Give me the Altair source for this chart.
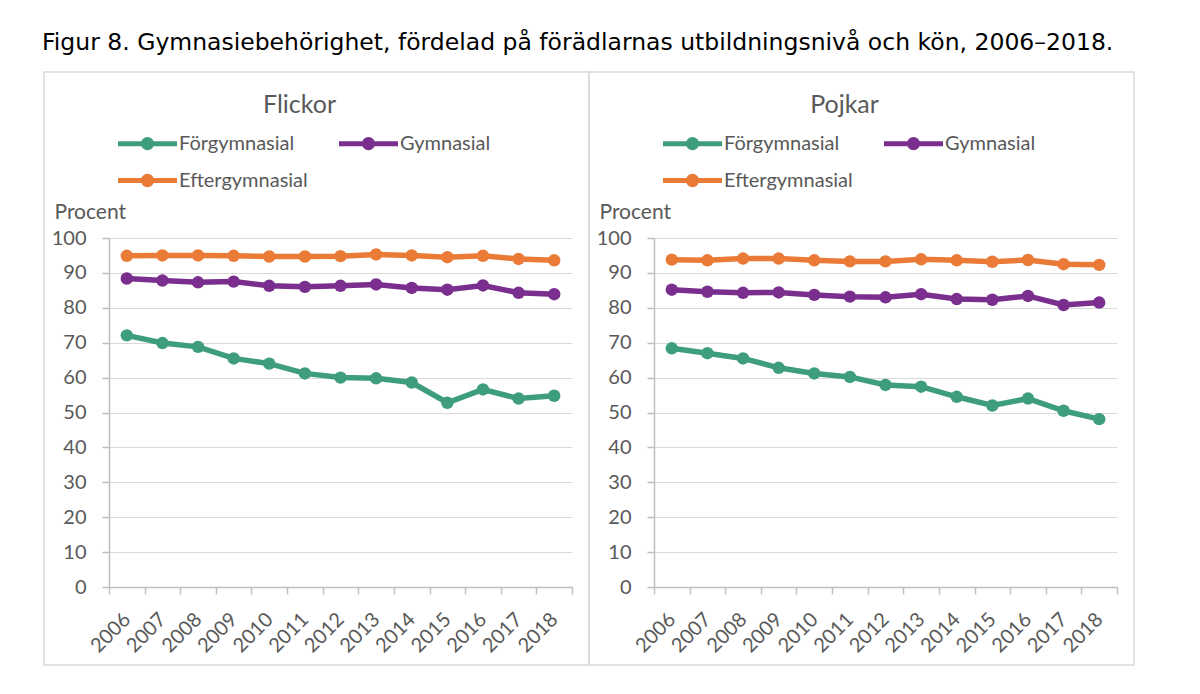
import altair as alt
import pandas as pd

years = [str(y) for y in range(2006, 2019)]
series = ["Förgymnasial", "Gymnasial", "Eftergymnasial"]
colors = ["#3E9D7F", "#7A2F8F", "#EA7B37"]

flickor_forgym = [72.1, 69.9, 68.8, 65.5, 64.0, 61.2, 60.0, 59.8, 58.6, 52.8, 56.6, 54.0, 54.8]
flickor_gym = [88.4, 87.8, 87.3, 87.5, 86.3, 86.0, 86.3, 86.7, 85.7, 85.2, 86.4, 84.3, 83.9]
flickor_efter = [94.9, 95.0, 95.0, 94.9, 94.7, 94.7, 94.8, 95.3, 95.0, 94.5, 94.9, 94.0, 93.6]

pojkar_forgym = [68.4, 67.0, 65.5, 62.8, 61.2, 60.2, 57.9, 57.4, 54.5, 52.0, 54.0, 50.5, 48.1]
pojkar_gym = [85.2, 84.6, 84.3, 84.4, 83.7, 83.2, 83.0, 83.9, 82.5, 82.3, 83.4, 80.8, 81.5]
pojkar_efter = [93.8, 93.6, 94.1, 94.1, 93.6, 93.3, 93.3, 93.9, 93.6, 93.2, 93.7, 92.5, 92.3]

panel_titles = ["Flickor", "Pojkar"]
y_ticks = list(range(0, 101, 10))

FONT = "Lato"
GRAY = "#595959"
LINE_GRAY = "#D9D9D9"
AXIS_GRAY = "#BFBFBF"

# line with a dot in the middle, as legend symbol
SYMBOL = ("M -1.5 0 L 1.5 0 "
          "M -0.21 0 A 0.21 0.21 0 1 1 0.21 0 A 0.21 0.21 0 1 1 -0.21 0 Z")


def make_df(vals_list):
    rows = []
    for s, vals in zip(series, vals_list):
        for y, v in zip(years, vals):
            rows.append({"year": y, "serie": s, "value": v})
    return pd.DataFrame(rows)


def panel(title, vals_list):
    df = make_df(vals_list)
    base = alt.Chart(df).encode(
        x=alt.X("year:O", sort=years,
                scale=alt.Scale(type="band", paddingInner=0, paddingOuter=0),
                axis=alt.Axis(title=None, labelAngle=-45, labelFontSize=20,
                              labelFont=FONT, labelColor=GRAY, tickBand="extent",
                              domainColor=AXIS_GRAY, tickColor=AXIS_GRAY,
                              tickSize=7, labelPadding=15, labelOffset=-7,
                              grid=False, domainWidth=1.5, tickWidth=1.5)),
        y=alt.Y("value:Q",
                scale=alt.Scale(domain=[0, 100], nice=False, zero=True),
                axis=alt.Axis(values=y_ticks, title="Procent", titleAngle=0,
                              titleAlign="left", titleBaseline="middle",
                              titleX=-55, titleY=-26, titleFontSize=21,
                              titleFont=FONT, titleColor=GRAY, titleFontWeight="normal",
                              labelFontSize=20, labelFont=FONT, labelColor=GRAY,
                              gridColor=LINE_GRAY, gridWidth=1.2,
                              domainColor=AXIS_GRAY, tickColor=AXIS_GRAY,
                              tickSize=7, labelPadding=16, domainWidth=1.5,
                              tickWidth=1.5)),
        color=alt.Color("serie:N", sort=series,
                        scale=alt.Scale(domain=series, range=colors),
                        legend=alt.Legend(title=None, orient="none",
                                          legendX=16, legendY=-117,
                                          columns=2, direction="horizontal",
                                          symbolType=SYMBOL, symbolSize=1547,
                                          symbolStrokeWidth=5,
                                          labelFont=FONT, labelFontSize=20,
                                          labelColor=GRAY, labelOffset=9,
                                          columnPadding=21, rowPadding=0,
                                          padding=0)),
    )
    border = alt.Chart(alt.Data(values=[{}])).mark_rect(
        fill=None, stroke=LINE_GRAY, strokeWidth=1.5, clip=False
    ).encode(x=alt.value(-65), x2=alt.value(480),
             y=alt.value(-166), y2=alt.value(427))
    line = base.mark_line(strokeWidth=5.5)
    pts = base.mark_point(filled=True, size=155, opacity=1)
    return alt.layer(border, line, pts).properties(
        width=463, height=349,
        title=alt.TitleParams(title, font=FONT, fontSize=25, color=GRAY,
                              fontWeight="normal", anchor="middle", frame="group",
                              dx=-41, offset=-47),
    )


left = panel(panel_titles[0], [flickor_forgym, flickor_gym, flickor_efter])
right = panel(panel_titles[1], [pojkar_forgym, pojkar_gym, pojkar_efter])

chart = alt.hconcat(left, right, spacing=82, bounds="flush").resolve_scale(
    color="independent"
).properties(
    title=alt.TitleParams(
        "Figur 8. Gymnasiebehörighet, fördelad på förädlarnas utbildningsnivå och kön, 2006–2018.",
        font="DejaVu Sans", fontSize=23.5, color="#000000", fontWeight="normal",
        anchor="start", frame="group", dx=-67, offset=17),
    autosize=alt.AutoSizeParams(type="pad"),
    padding={"left": 34, "top": 22, "right": 10, "bottom": 10},
).configure_view(stroke=None)

chart.save("out.html", embed_options={"renderer": "svg", "actions": False})
